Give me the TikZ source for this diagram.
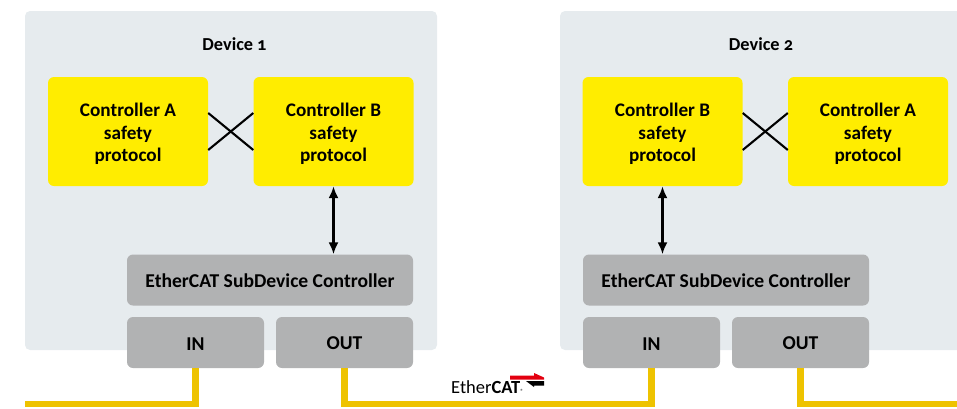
\documentclass[tikz,border=0pt]{standalone}
\usepackage{fontspec}
\setmainfont[Numbers=OldStyle]{Carlito}
\usetikzlibrary{calc,arrows.meta}
\definecolor{devicegray}{HTML}{E6EBEE}
\definecolor{ctrlyellow}{HTML}{FFED00}
\definecolor{portgray}{HTML}{B1B2B3}
\definecolor{busyellow}{HTML}{EEC300}
\definecolor{logored}{HTML}{E3000F}
\newcommand{\ctrltext}[1]{\rule{0pt}{19pt}Controller #1\\safety\\protocol}
\tikzset{
 device/.style={fill=devicegray,rounded corners=5pt,minimum height=339pt,inner sep=0pt},
 ctrl/.style={fill=ctrlyellow,rounded corners=6pt,minimum width=160pt,minimum height=109pt,inner sep=0pt,align=center,font=\fontsize{19.2}{22.5}\selectfont\bfseries},
 esc/.style={fill=portgray,rounded corners=6pt,minimum width=286pt,minimum height=51pt,inner sep=0pt,text height=15pt,font=\fontsize{19.6}{20}\selectfont\bfseries},
 port/.style={fill=portgray,rounded corners=6pt,minimum width=137pt,minimum height=51pt,inner sep=0pt,text height=15pt,font=\fontsize{19.6}{20}\selectfont\bfseries},
 title/.style={inner sep=0pt,font=\fontsize{18.3}{20}\selectfont\bfseries},
 cross/.style={line width=2.1pt},
 link/.style={line width=2.1pt,{Latex[length=12pt,width=10pt]}-{Latex[length=12pt,width=10pt]}},
 bus/.style={line width=6.5pt,busyellow}
}
\begin{document}
\begin{tikzpicture}[x=1pt,y=-1pt]
 \useasboundingbox (0,0) rectangle (957,408);
 % device boxes
 \node[device,minimum width=412pt] (dev1) at (231,180.5) {};
 \node[device,minimum width=412pt] (dev2) at (766,180.5) {};
 \node[title] (name1) at (234.5,44) {Device 1};
 \node[title] (name2) at (761,44) {Device 2};
 % controllers
 \node[ctrl] (a1) at (128,131.5) {\ctrltext{A}};
 \node[ctrl] (b1) at (333.5,131.5) {\ctrltext{B}};
 \node[ctrl] (b2) at (662.5,131.5) {\ctrltext{B}};
 \node[ctrl] (a2) at (868,131.5) {\ctrltext{A}};
 % subdevice controllers and ports
 \node[esc] (esc1) at (270,280) {EtherCAT SubDevice Controller};
 \node[esc] (esc2) at (726,280) {EtherCAT SubDevice Controller};
 \node[port] (in1) at (195.5,342.5) {IN};
 \node[port] (out1) at (344.5,342.5) {OUT};
 \node[port] (in2) at (651.5,342.5) {IN};
 \node[port] (out2) at (800.5,342.5) {OUT};
 % connections
 \draw[cross] ($(a1.east)+(0,-18.5)$) -- ($(b1.west)+(0,18.5)$);
 \draw[cross] ($(a1.east)+(0,18.5)$) -- ($(b1.west)+(0,-18.5)$);
 \draw[cross] ($(b2.east)+(0,-18.5)$) -- ($(a2.west)+(0,18.5)$);
 \draw[cross] ($(b2.east)+(0,18.5)$) -- ($(a2.west)+(0,-18.5)$);
 \draw[link] (b1.south) -- (b1.south |- esc1.north);
 \draw[link] (b2.south) -- (b2.south |- esc2.north);
 % bus
 \coordinate (busin) at (25,404);
 \coordinate (busout) at (957,404);
 \draw[bus] (busin) -| (in1.south);
 \draw[bus] (out1.south) |- (busin -| in2.south) -- (in2.south);
 \draw[bus] (out2.south) |- (busout);
 % logo
 \node[inner sep=0pt,anchor=base west,font=\fontsize{18.5}{20}\selectfont] (logo) at (451,393.5) {Ether\textbf{CAT}{\fontsize{6}{6}\selectfont ®}};
 \fill[logored] (510,375.5) -- (534,375.5) -- (534,373) -- (544,377.5) -- (544,379.5) -- (510,379.5) -- cycle;
 \fill[black] (544,381) -- (526,381) -- (534,387) -- (534,385.5) -- (544,385.5) -- cycle;
\end{tikzpicture}
\end{document}
